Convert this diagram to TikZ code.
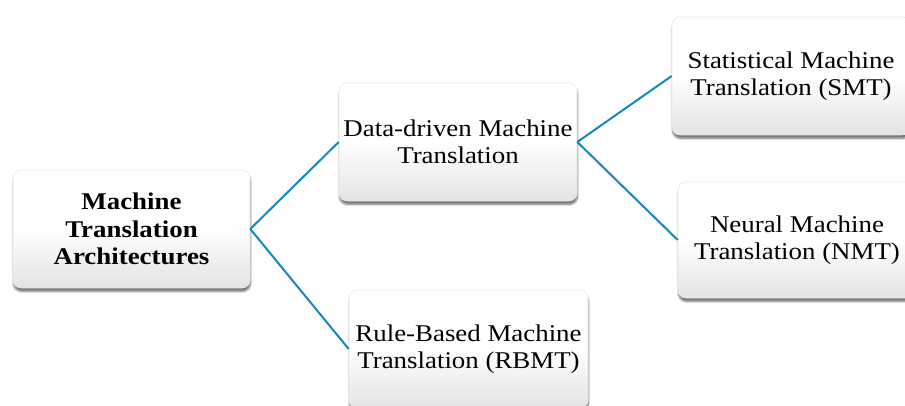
\documentclass[tikz,border=0pt]{standalone}
\usepackage{fontspec}
\setmainfont[FakeStretch=1.12]{Liberation Serif}
\usetikzlibrary{shadows.blur}
\definecolor{linkblue}{RGB}{18,136,188}
\definecolor{boxline}{RGB}{232,232,232}
\tikzset{
  card/.style={rounded corners=8pt, draw=boxline, line width=0.6pt,
    top color=white, bottom color=black!11, middle color=white,
    blur shadow={shadow xshift=0.5pt, shadow yshift=-3.5pt, shadow blur steps=6, shadow opacity=55},
    align=center, inner sep=0pt, font=\fontsize{24}{26.5}\selectfont},
  link/.style={draw=linkblue, line width=2pt}
}
\begin{document}
\begin{tikzpicture}[x=1pt,y=1pt]
\useasboundingbox (0,0) rectangle (905,405);
\node[card, minimum width=237pt, minimum height=118pt, font=\fontsize{24}{27.5}\selectfont\bfseries] (L) at (131.5,176) {Machine\\Translation\\Architectures};
\node[card, minimum width=238pt, minimum height=118pt] (D) at (458,263) {Data-driven Machine\\Translation};
\node[card, minimum width=239pt, minimum height=118pt] (R) at (468.5,56) {Rule-Based Machine\\Translation (RBMT)};
\node[card, minimum width=238pt, minimum height=118pt] (S) at (791,329) {Statistical Machine\\Translation (SMT)};
\node[card, minimum width=238pt, minimum height=116pt] (N) at (797,165) {Neural Machine\\Translation (NMT)};
\draw[link] (L.east) -- (D.west);
\draw[link] (L.east) -- (R.west);
\draw[link] (D.east) -- (S.west);
\draw[link] (D.east) -- (N.west);
\end{tikzpicture}
\end{document}
